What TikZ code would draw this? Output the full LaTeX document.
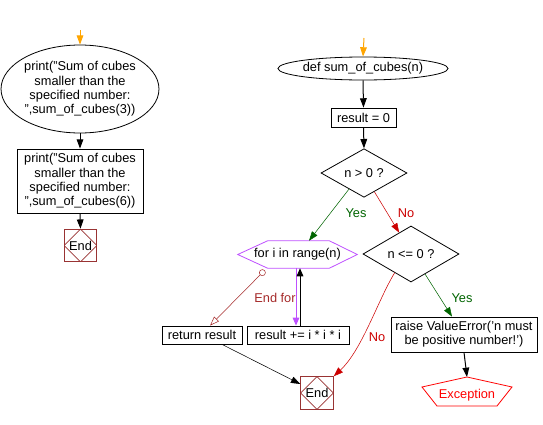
\documentclass[tikz,border=0pt]{standalone}
\usepackage{fontspec}
\setmainfont{Liberation Sans}
\usetikzlibrary{shapes.geometric,arrows.meta,calc}
\definecolor{orng}{RGB}{255,165,0}
\definecolor{yesg}{RGB}{0,100,0}
\definecolor{nor}{RGB}{204,0,0}
\definecolor{endc}{RGB}{153,51,51}
\definecolor{purp}{RGB}{190,80,255}
\definecolor{exitc}{RGB}{165,42,42}
\begin{document}
\begin{tikzpicture}[x=0.75pt,y=-0.75pt,
  font=\fontsize{9.6pt}{10.7pt}\selectfont,
  procbox/.style={draw,rectangle,inner sep=0pt,align=center,line width=0.6pt},
  termell/.style={draw,ellipse,inner sep=0pt,align=center,line width=0.6pt},
  decis/.style={draw,diamond,inner sep=0pt,line width=0.6pt},
  endbox/.style={draw=endc,rectangle,inner sep=0pt,minimum size=24.5pt,line width=0.6pt,
    path picture={\draw[endc,line width=0.6pt] (path picture bounding box.north) -- (path picture bounding box.east) -- (path picture bounding box.south) -- (path picture bounding box.west) -- cycle;}},
  flowarr/.style={-{Triangle[length=7pt,width=5pt]},line width=0.75pt},
  yesarr/.style={yesg,-{Triangle[length=7pt,width=5pt]},line width=0.4pt},
  noarr/.style={nor,-{Triangle[length=7pt,width=5pt]},line width=0.4pt},
  lbl/.style={inner sep=0pt}
]
\useasboundingbox (0,0) rectangle (543,425);

% left column
\coordinate (s1) at (80,30);
\node[termell,minimum width=113.25pt,minimum height=66pt] (p1) at (80,89)
  {print("Sum of cubes\\smaller than the\\specified number:\\",sum\_of\_cubes(3))};
\node[procbox,minimum width=94.5pt,minimum height=48pt] (p2) at (80,181)
  {print("Sum of cubes\\smaller than the\\specified number:\\",sum\_of\_cubes(6))};
\node[endbox] (end1) at (80.5,245.5) {End};
\draw[flowarr,orng] (s1) -- (p1.north);
\draw[flowarr] (p1.south) -- (p2.north);
\draw[flowarr] (p2.south) -- (end1.north);

% right column
\coordinate (s2) at (364,38);
\node[termell,minimum width=103.5pt,minimum height=17.25pt] (def) at (363,68.5) {def sum\_of\_cubes(n)};
\node[procbox,minimum width=48.75pt,minimum height=14.25pt] (res0) at (363.5,117.5) {result = 0};
\node[decis,minimum width=64.5pt,minimum height=30pt] (gt) at (364,173) {n > 0 ?};
\node[inner sep=0pt,minimum width=89.25pt,minimum height=20.25pt] (for) at (297.5,254.5) {for i in range(n)};
\draw[purp,line width=0.6pt] (for.west) -- ($(for.north west)+(30,0)$) -- ($(for.north east)+(-28,0)$) -- (for.east) -- ($(for.south east)+(-28,0)$) -- ($(for.south west)+(30,0)$) -- cycle;
\node[decis,minimum width=72pt,minimum height=30pt] (nle) at (411,254) {n <= 0 ?};
\node[procbox,minimum width=60pt,minimum height=13.5pt] (ret) at (202,335) {return result};
\node[procbox,minimum width=76.5pt,minimum height=13.5pt] (body) at (298,335) {result += i * i * i};
\node[endbox] (end2) at (317,393) {End};
\node[procbox,minimum width=109.5pt,minimum height=26.25pt] (raise) at (464,334.5)
  {raise ValueError('n must\\be positive number!')};
\node[inner sep=0pt,text=red] (exc) at (467,395) {Exception};
\draw[red,line width=0.6pt] ($(exc)+(0,-18)$) -- ($(exc)+(45,-8)$) -- ($(exc)+(30,11)$) -- ($(exc)+(-30,11)$) -- ($(exc)+(-45,-8)$) -- cycle;

\draw[flowarr,orng] (s2) -- (def.north);
\draw[flowarr] (def.south) -- (res0.north);
\draw[flowarr] (res0.south) -- (gt.north);
\draw[yesarr] (gt.227) -- ($(for.north)+(11.5,0)$);
\node[lbl,text=yesg] at (356,213) {Yes};
\draw[noarr] (gt.299) -- (nle.119);
\node[lbl,text=nor] at (406,213) {No};

\draw[purp,-{Triangle[length=6pt,width=5pt]},line width=0.7pt] ($(for.south)+(-1.5,0)$) -- ($(body.north)+(-2,0)$);
\draw[-{Triangle[length=6pt,width=5pt]},line width=0.7pt] ($(body.north)+(2,0)$) -- ($(for.south)+(2.5,0)$);
\draw[exitc,{Circle[open,length=5pt]}-{Triangle[open,length=7pt,width=5pt]},line width=0.4pt] ($(for.south west)+(27,2)$) -- ($(ret.north)+(8,0)$);
\node[lbl,text=exitc] at (275,298) {End for};
\draw[-{Triangle[length=7pt,width=5pt]},line width=0.4pt] ($(ret.south)+(20,0)$) -- ($(end2.west)+(0,-9)$);

\draw[noarr] (nle.229) .. controls (378,300) and (362,350) .. (end2.north east);
\node[lbl,text=nor] at (377,337) {No};
\draw[yesarr] (nle.305) -- ($(raise.north)+(-12,0)$);
\node[lbl,text=yesg] at (462,298) {Yes};
\draw[flowarr] (raise.south) -- ($(exc)+(0,-18)$);
\end{tikzpicture}
\end{document}
